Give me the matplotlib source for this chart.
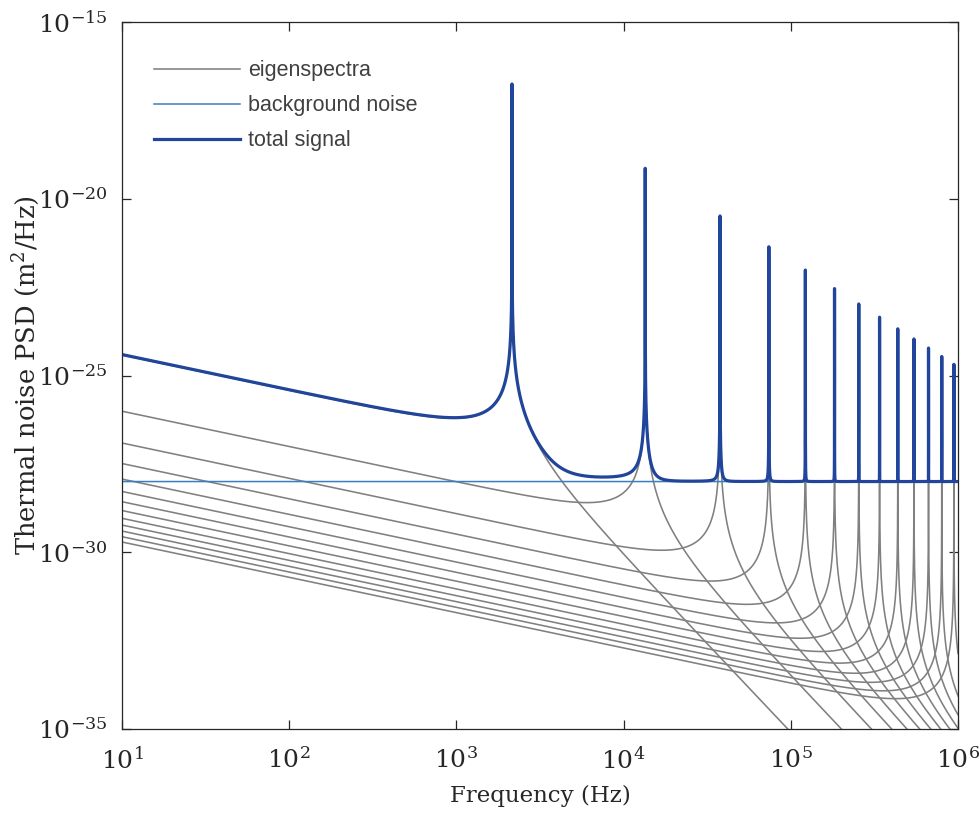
import matplotlib
matplotlib.use('Agg')
import matplotlib.pyplot as plt
import numpy as np

# resonance frequencies of the eigenmodes (Hz)
mode_freqs = [2150, 13470, 37730, 73930, 122200, 182600, 255000,
              339500, 436300, 545200, 666300, 799600, 945100]
# log10 of each eigenspectrum at 10 Hz (m^2/Hz)
mode_level_10hz = [-24.42, -26.01, -26.91, -27.49, -27.93, -28.28, -28.57,
                   -28.82, -29.04, -29.23, -29.40, -29.56, -29.71]
loss_factor = 1e-5        # from the peak heights
background_psd = 1.0e-28  # flat background noise level

legend_labels = ['eigenspectra', 'background noise', 'total signal']

plt.rcParams['mathtext.fontset'] = 'custom'
plt.rcParams['mathtext.rm'] = 'DejaVu Serif'
plt.rcParams['mathtext.it'] = 'DejaVu Serif:italic'
plt.rcParams['font.family'] = 'DejaVu Serif'

# frequency grid, dense around every resonance so the peaks are hit
f = np.logspace(1, 6, 20000)
extra = []
for fn in mode_freqs:
    extra.append(fn * (1 + np.linspace(-30, 30, 241) * loss_factor))
f = np.unique(np.concatenate([f] + extra))
f = f[(f >= 10) & (f <= 1e6)]

spectra = []
for fn, lvl in zip(mode_freqs, mode_level_10hz):
    r = f / fn
    s = 10**lvl * (10. / f) / ((1 - r**2)**2 + loss_factor**2)
    spectra.append(s)
spectra = np.array(spectra)
bg = np.full_like(f, background_psd)
total = spectra.sum(axis=0) + bg

fig = plt.figure(figsize=(9.8, 8.16), dpi=100)
ax = fig.add_axes([122/980., 1 - 729/816., (958-122)/980., (729-22)/816.])

for i, s in enumerate(spectra):
    ax.plot(f, s, color='#808080', lw=1.15,
            label=legend_labels[0] if i == 0 else None)
ax.plot(f, bg, color='#3a7fc0', lw=1.1, label=legend_labels[1])
ax.plot(f, total, color='#21459a', lw=2.3, label=legend_labels[2])

ax.set_xscale('log')
ax.set_yscale('log')
ax.set_xlim(1e1, 1e6)
ax.set_ylim(1e-35, 1e-15)
ax.set_xticks([1e1, 1e2, 1e3, 1e4, 1e5, 1e6])
ax.set_yticks([1e-35, 1e-30, 1e-25, 1e-20, 1e-15])
ax.minorticks_off()
ax.tick_params(which='both', direction='in', length=6.5, width=0.9,
               top=True, right=True, labelsize=18, colors='#262626')
ax.tick_params(axis='x', pad=13)
ax.tick_params(axis='y', pad=10)
for sp in ax.spines.values():
    sp.set_color('#262626')
    sp.set_linewidth(0.9)

ax.set_xlabel('Frequency (Hz)', fontsize=16.5, color='#262626', labelpad=8)
ax.set_ylabel(r'Thermal noise PSD $(\mathrm{m}^2/\mathrm{Hz})$', fontsize=18.5,
              color='#262626', labelpad=-3)

leg = ax.legend(loc='upper left', bbox_to_anchor=(0.028, 0.958),
                frameon=False, handlelength=4.0, handletextpad=0.35,
                labelspacing=0.65, borderaxespad=0,
                prop={'family': 'Liberation Sans', 'size': 15.5})
for t in leg.get_texts():
    t.set_color('#404040')

fig.savefig('out.png', dpi=100)
